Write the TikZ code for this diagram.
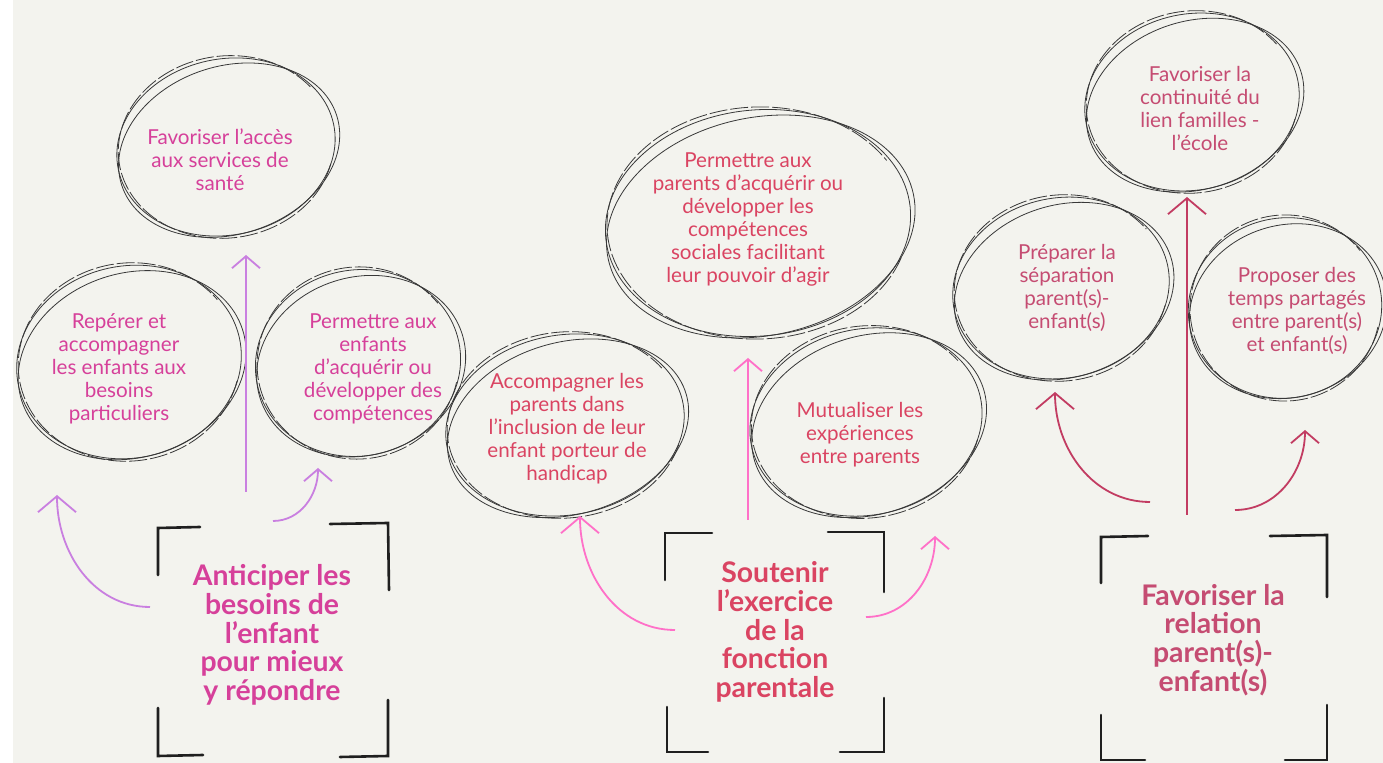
\documentclass[tikz,border=0pt]{standalone}
\usepackage{fontspec}
\setmainfont{Lato}
\usetikzlibrary{arrows.meta,calc}
\definecolor{bg}{HTML}{F3F3EE}
\definecolor{ltxt}{HTML}{D6409A}
\definecolor{larr}{HTML}{C97FE0}
\definecolor{mtxt}{HTML}{DA4462}
\definecolor{marr}{HTML}{FF70C8}
\definecolor{rtxt}{HTML}{C54C72}
\definecolor{rarr}{HTML}{C23C62}
\newcommand{\skell}[4]{%
  \draw[sk, rotate around={#4:(#1)}] (#1) ellipse [x radius=#2, y radius=#3];
  \draw[sk, rotate around={#4+6:(#1)}] ($(#1)+(2,4)$) ellipse [x radius=#2+3, y radius=#3-4];
  \draw[sk, dash pattern=on 9pt off 1.5pt, rotate around={#4-4:(#1)}] ($(#1)+({(#2-2)*cos(20)},{(#3+3)*sin(20)})$) arc [start angle=20, end angle=330, x radius=#2-2, y radius=#3+3];
}
\begin{document}
\begin{tikzpicture}[x=0.5pt,y=-0.5pt,
  sk/.style={draw=black!78, line width=0.4pt},
  sm/.style={font=\fontsize{10.3}{11.5}\selectfont, align=center, inner sep=0pt},
  ttl/.style={font=\fontsize{14.2}{14.4}\selectfont\bfseries, align=center, inner sep=0pt},
  br/.style={draw=black!88, line width=1.3pt, line cap=round},
  big/.style={line width=0.9pt, -{Straight Barb[length=8pt, width=19pt]}},
  small/.style={line width=0.9pt, -{Straight Barb[length=6pt, width=14pt]}}]
\fill[white] (0,0) rectangle (1383,763);
\fill[bg] (13,0) rectangle (1383,763);
\useasboundingbox (0,0) rectangle (1383,763);

% ---------- left group ----------
\skell{226,147}{110}{88}{12}
\skell{129,362}{113}{96}{12}
\skell{358,363}{103}{93}{12}
\node[sm, text=ltxt] (a1) at (220,160) {Favoriser l'accès\\aux services de\\santé};
\node[sm, text=ltxt] (a2) at (119,369) {Repérer et\\accompagner\\les enfants aux\\besoins\\particuliers};
\node[sm, text=ltxt] (a3) at (373,369) {Permettre aux\\enfants\\d'acquérir ou\\développer des\\compétences};
\node[ttl, text=ltxt] (t1) at (272,635) {Anticiper les\\besoins de\\l'enfant\\pour mieux\\y répondre};
\coordinate (t1up) at (246,492); \coordinate (a1in) at (246,255);
\coordinate (t1l) at (150,607);  \coordinate (a2in) at (57,495);
\coordinate (t1r) at (273,521);  \coordinate (a3in) at (318,468);
\draw[larr, small] (t1up) -- (a1in);
\draw[larr, big] (t1l) to[out=180, in=-90] (a2in);
\draw[larr, small] (t1r) to[out=0, in=-90] (a3in);
\draw[br] (200,527) -- (158,528) -- (158,575);
\draw[br] (330,524) -- (388,523) -- (389,590);
\draw[br] (158,708) -- (158,756) -- (203,755);
\draw[br] (388,700) -- (388,756) -- (340,757);

% ---------- middle group ----------
\skell{758,223}{153}{113}{6}
\skell{565,425}{120}{90}{10}
\skell{866,422}{117}{93}{12}
\node[sm, text=mtxt] (b1) at (748,220) {Permettre aux\\parents d'acquérir ou\\développer les\\compétences\\sociales facilitant\\leur pouvoir d'agir};
\node[sm, text=mtxt] (b2) at (567,429) {Accompagner les\\parents dans\\l'inclusion de leur\\enfant porteur de\\handicap};
\node[sm, text=mtxt] (b3) at (860,435) {Mutualiser les\\expériences\\entre parents};
\node[ttl, text=mtxt] (t2) at (775,632) {Soutenir\\l'exercice\\de la\\fonction\\parentale};
\coordinate (t2up) at (748,520); \coordinate (b1in) at (748,358);
\coordinate (t2l) at (675,630);  \coordinate (b2in) at (580,516);
\coordinate (t2r) at (866,617);  \coordinate (b3in) at (935,536);
\draw[marr, small] (t2up) -- (b1in);
\draw[marr, big] (t2l) to[out=180, in=-90] (b2in);
\draw[marr, small] (t2r) to[out=0, in=-90] (b3in);
\draw[br] (712,533) -- (665,533) -- (665,580);
\draw[br] (828,532) -- (884,532) -- (884,592);
\draw[br] (667,707) -- (667,752) -- (708,752);
\draw[br] (884,698) -- (884,752) -- (840,752);

% ---------- right group ----------
\skell{1192,102}{108}{88}{12}
\skell{1061,288}{109}{90}{12}
\skell{1285,308}{97}{90}{12}
\node[sm, text=rtxt] (c1) at (1200,108) {Favoriser la\\continuité du\\lien familles -\\l'école};
\node[sm, text=rtxt] (c2) at (1067,288) {Préparer la\\séparation\\parent(s)-\\enfant(s)};
\node[sm, text=rtxt] (c3) at (1297,311) {Proposer des\\temps partagés\\entre parent(s)\\et enfant(s)};
\node[ttl, text=rtxt] (t3) at (1213,640) {Favoriser la\\relation\\parent(s)-\\enfant(s)};
\coordinate (t3up) at (1187,515); \coordinate (c1in) at (1187,197);
\coordinate (t3l) at (1150,502);  \coordinate (c2in) at (1055,392);
\coordinate (t3r) at (1235,510);  \coordinate (c3in) at (1305,430);
\draw[rarr, big] (t3up) -- (c1in);
\draw[rarr, big] (t3l) to[out=180, in=-90] (c2in);
\draw[rarr, small] (t3r) to[out=0, in=-90] (c3in);
\draw[br] (1148,536) -- (1101,537) -- (1101,583);
\draw[br] (1270,536) -- (1327,535) -- (1327,597);
\draw[br] (1101,715) -- (1101,760) -- (1145,760);
\draw[br] (1327,705) -- (1327,760) -- (1285,760);
\end{tikzpicture}
\end{document}
